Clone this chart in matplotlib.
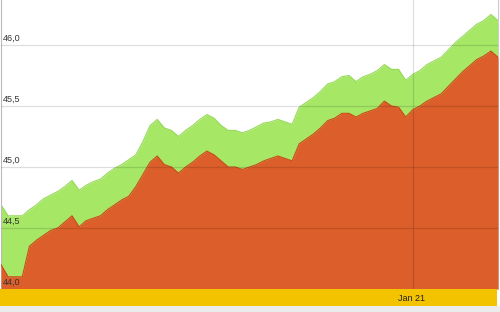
import numpy as np
import pandas as pd
import matplotlib
matplotlib.use("Agg")
import matplotlib.pyplot as plt
import matplotlib.transforms as mtransforms

plt.rcParams["font.family"] = ["Liberation Sans", "DejaVu Sans"]

# daily values
dates = pd.date_range("2020-11-24", periods=71, freq="D")
upper = [44.69, 44.60, 44.60, 44.60, 44.65, 44.69, 44.74, 44.77, 44.80, 44.84,
         44.89, 44.81, 44.85, 44.88, 44.90, 44.95, 44.99, 45.02, 45.06, 45.10,
         45.21, 45.34, 45.39, 45.32, 45.30, 45.25, 45.30, 45.34, 45.39, 45.43,
         45.40, 45.34, 45.30, 45.30, 45.28, 45.30, 45.33, 45.36, 45.37, 45.39,
         45.37, 45.35, 45.49, 45.53, 45.57, 45.62, 45.68, 45.70, 45.74, 45.75,
         45.70, 45.74, 45.76, 45.79, 45.84, 45.80, 45.80, 45.71, 45.76, 45.79,
         45.84, 45.87, 45.90, 45.96, 46.02, 46.07, 46.12, 46.17, 46.20, 46.25,
         46.20]
lower = [44.20, 44.10, 44.10, 44.10, 44.35, 44.40, 44.44, 44.48, 44.50, 44.55,
         44.60, 44.51, 44.56, 44.58, 44.60, 44.65, 44.69, 44.73, 44.76, 44.84,
         44.94, 45.04, 45.09, 45.02, 45.00, 44.95, 45.00, 45.04, 45.09, 45.13,
         45.10, 45.05, 45.00, 45.00, 44.98, 45.00, 45.02, 45.05, 45.07, 45.09,
         45.07, 45.05, 45.19, 45.23, 45.27, 45.32, 45.38, 45.40, 45.44, 45.44,
         45.41, 45.44, 45.46, 45.48, 45.54, 45.50, 45.49, 45.41, 45.47, 45.50,
         45.54, 45.57, 45.60, 45.66, 45.72, 45.78, 45.83, 45.88, 45.91, 45.95,
         45.90]
yticks = [44.0, 44.5, 45.0, 45.5, 46.0]
xtick = pd.Timestamp("2021-01-21")

fig = plt.figure(figsize=(5.0, 3.12), dpi=100)
fig.patch.set_facecolor("white")
W, H = 500, 312

ax = fig.add_axes([1 / W, 23 / H, 497 / W, 289 / H])
base = 44.0
ax.fill_between(dates, base, upper, color="#a6e766", lw=0, zorder=1)
ax.plot(dates, upper, color="#95d958", lw=0.8, zorder=2)
ax.fill_between(dates, base, lower, color="#dc5e2b", lw=0, zorder=3)
ax.plot(dates, lower, color="#cc4a18", lw=0.8, zorder=4)

ax.set_xlim(dates[0], dates[-1])
ax.set_ylim(44.0, 44.0 + 289 / 122)
for v in yticks[1:]:
    ax.axhline(v, color="black", alpha=0.13, lw=0.9, zorder=5)
ax.axvline(xtick, color="black", alpha=0.13, lw=0.9, zorder=5)

lbl_tr = mtransforms.offset_copy(ax.get_yaxis_transform(), fig=fig, x=2, y=2, units="dots")
for v in yticks:
    ax.text(0, v, f"{v:.1f}".replace(".", ","), transform=lbl_tr, fontsize=6.5,
            color="#333333", ha="left", va="bottom", zorder=6)

ax.set_xticks([]); ax.set_yticks([])
for s in ("top", "bottom"):
    ax.spines[s].set_visible(False)
ax.spines["left"].set_color("#bbbbbb")
ax.spines["right"].set_color("#cccccc")
ax.spines["left"].set_linewidth(0.8)
ax.spines["right"].set_linewidth(0.8)

# date band below the chart
band = fig.add_axes([0, 6 / H, 497 / W, 17 / H])
band.set_facecolor("#f4c300")
band.set_xlim(dates[0], dates[-1])
band.set_ylim(0, 1)
band.text(xtick, 0.45, xtick.strftime("%b %d").replace(" 0", " "), fontsize=6.5,
          color="#222222", ha="center", va="center")
band.set_xticks([]); band.set_yticks([])
for s in band.spines.values():
    s.set_visible(False)

strip = fig.add_axes([0, 0, 1, 6 / H])
strip.set_facecolor("#ececec")
strip.set_xticks([]); strip.set_yticks([])
for s in strip.spines.values():
    s.set_visible(False)

fig.savefig("out.png", dpi=100)
